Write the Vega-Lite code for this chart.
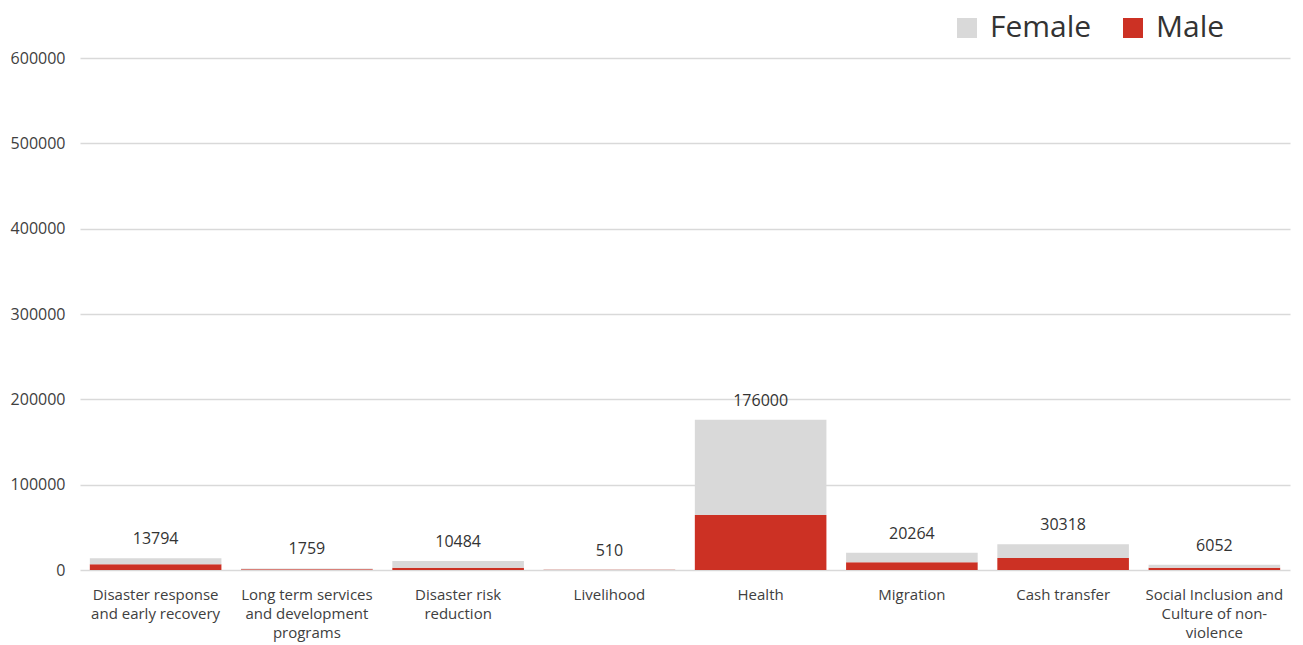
{
  "$schema": "https://vega.github.io/schema/vega-lite/v6.json",
  "width": 1210,
  "height": 512,
  "autosize": {"type": "none"},
  "padding": {"left": 80, "top": 58, "right": 13, "bottom": 75},
  "background": "white",
  "config": {
    "view": {"stroke": null},
    "font": "Open Sans",
    "axis": {"labelColor": "#404040", "labelFont": "Open Sans"}
  },
  "data": {
    "values": [
      {"category": "Disaster response and early recovery", "gender": "Male", "value": 6700},
      {"category": "Disaster response and early recovery", "gender": "Female", "value": 7094},
      {"category": "Long term services and development programs", "gender": "Male", "value": 800},
      {"category": "Long term services and development programs", "gender": "Female", "value": 959},
      {"category": "Disaster risk reduction", "gender": "Male", "value": 2500},
      {"category": "Disaster risk reduction", "gender": "Female", "value": 7984},
      {"category": "Livelihood", "gender": "Male", "value": 250},
      {"category": "Livelihood", "gender": "Female", "value": 260},
      {"category": "Health", "gender": "Male", "value": 64500},
      {"category": "Health", "gender": "Female", "value": 111500},
      {"category": "Migration", "gender": "Male", "value": 9000},
      {"category": "Migration", "gender": "Female", "value": 11264},
      {"category": "Cash transfer", "gender": "Male", "value": 14000},
      {"category": "Cash transfer", "gender": "Female", "value": 16318},
      {"category": "Social Inclusion and Culture of non-violence", "gender": "Male", "value": 2500},
      {"category": "Social Inclusion and Culture of non-violence", "gender": "Female", "value": 3552}
    ]
  },
  "encoding": {
    "x": {
      "field": "category",
      "type": "nominal",
      "sort": null,
      "title": null,
      "scale": {"paddingInner": 0.13, "paddingOuter": 0.065},
      "axis": {
        "labelAngle": 0,
        "labelFontSize": 15,
        "labelPadding": 24,
        "labelLineHeight": 19,
        "labelBaseline": "middle",
        "domain": false,
        "ticks": false,
        "labelExpr": "datum.value == 'Disaster response and early recovery' ? ['Disaster response', 'and early recovery'] : datum.value == 'Long term services and development programs' ? ['Long term services', 'and development', 'programs'] : datum.value == 'Disaster risk reduction' ? ['Disaster risk', 'reduction'] : datum.value == 'Social Inclusion and Culture of non-violence' ? ['Social Inclusion and', 'Culture of non-', 'violence'] : datum.value"
      }
    }
  },
  "layer": [
    {
      "mark": {"type": "bar"},
      "encoding": {
        "y": {
          "field": "value",
          "type": "quantitative",
          "aggregate": "sum",
          "stack": "zero",
          "title": null,
          "scale": {"domain": [0, 600000]},
          "axis": {
            "values": [0, 100000, 200000, 300000, 400000, 500000, 600000],
            "format": "d",
            "labelFontSize": 16,
            "labelPadding": 15,
            "domain": false,
            "ticks": false,
            "gridColor": "#D9D9D9",
            "gridWidth": 1.5
          }
        },
        "color": {
          "field": "gender",
          "type": "nominal",
          "scale": {"domain": ["Female", "Male"], "range": ["#D9D9D9", "#CC3124"]},
          "legend": {
            "title": null,
            "orient": "none",
            "direction": "horizontal",
            "legendX": 872,
            "legendY": -45,
            "symbolType": "square",
            "symbolSize": 400,
            "symbolStrokeWidth": 0,
            "labelFontSize": 30,
            "labelColor": "#333333",
            "labelFont": "Open Sans",
            "columnPadding": 26,
            "labelOffset": 8
          }
        },
        "order": {"field": "gender", "sort": "descending"}
      }
    },
    {
      "transform": [
        {"aggregate": [{"op": "sum", "field": "value", "as": "total"}], "groupby": ["category"]}
      ],
      "mark": {"type": "text", "baseline": "bottom", "dy": -11, "fontSize": 16, "color": "#333333"},
      "encoding": {
        "y": {"field": "total", "type": "quantitative"},
        "text": {"field": "total", "type": "quantitative", "format": "d"}
      }
    }
  ]
}
